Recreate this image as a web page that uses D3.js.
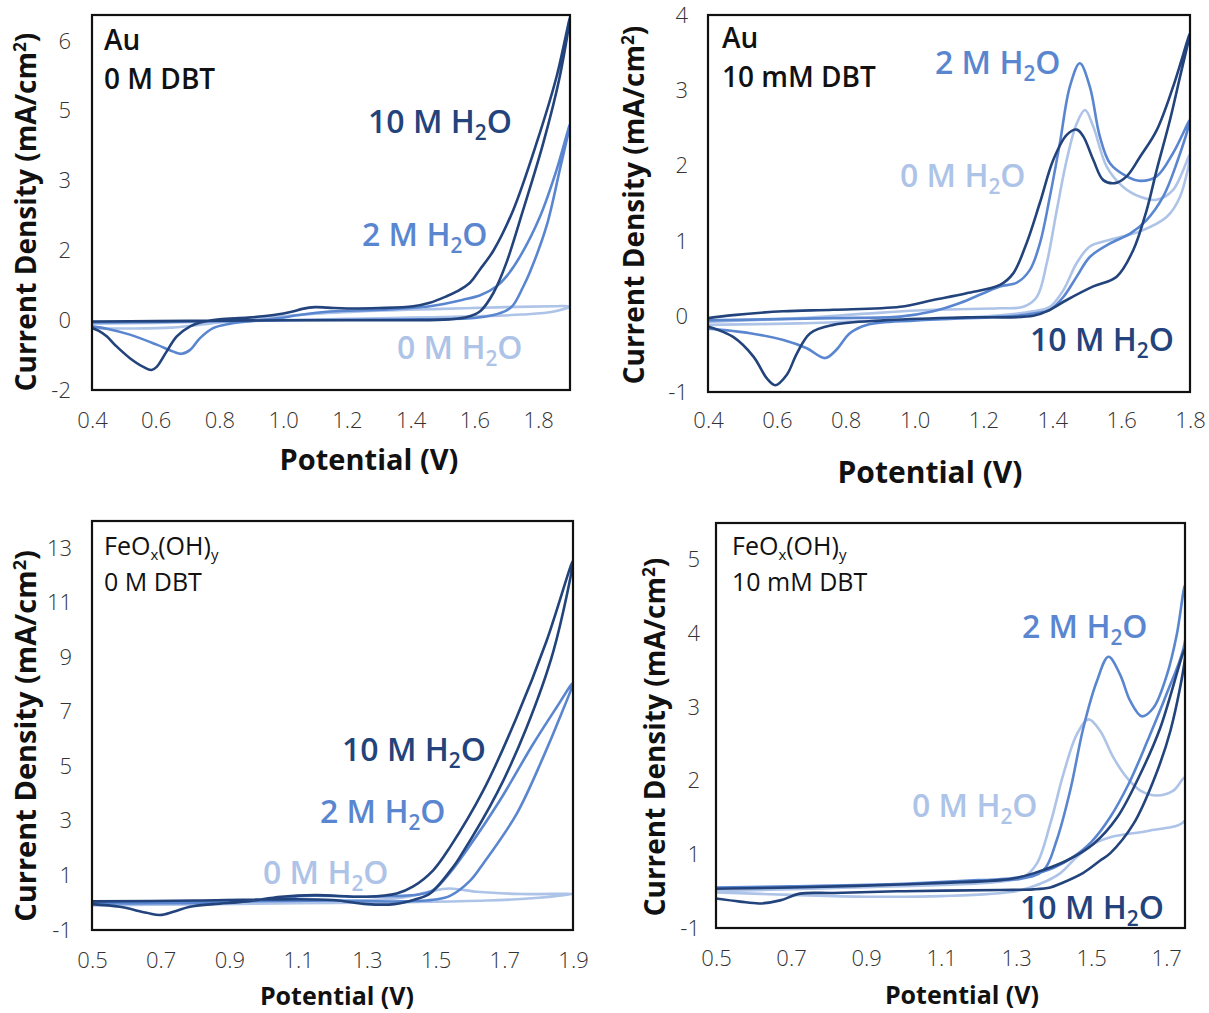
<!DOCTYPE html>
<html>
<head>
<meta charset="utf-8">
<script src="https://cdn.jsdelivr.net/npm/d3@7"></script>
<style>
  body { margin: 0; background: #fff; }
  svg text { font-family: "Open Sans", "Lato", sans-serif; }
</style>
</head>
<body>
<div id="canvas"></div>
<script>
"use strict"

// ---- data: [potential (V), current density (mA/cm2)] in scan order ----

// Au, 0 M DBT
let auNoDbt10M = [[0.40,-0.03],[0.60,-0.02],[0.80,-0.01],[1.00,0.00],[1.20,0.00],[1.40,0.00],[1.52,0.02],[1.58,0.08],[1.62,0.22],[1.66,0.63],[1.70,1.31],[1.753,2.53],[1.816,4.06],[1.868,5.59],[1.90,6.95],
  [1.858,5.59],[1.795,4.06],[1.722,2.53],[1.66,1.60],[1.617,1.16],[1.586,0.86],[1.545,0.66],[1.513,0.55],[1.46,0.40],[1.408,0.32],[1.30,0.28],[1.20,0.27],[1.14,0.29],[1.10,0.30],[1.06,0.26],[1.03,0.20],[0.97,0.12],[0.89,0.06],[0.80,0.02],[0.74,-0.05],[0.708,-0.14],[0.666,-0.37],[0.634,-0.72],[0.603,-1.07],[0.587,-1.14],[0.561,-1.07],[0.519,-0.87],[0.477,-0.60],[0.446,-0.37],[0.42,-0.24],[0.40,-0.18]];
let auNoDbt2M = [[0.40,-0.05],[0.60,-0.04],[0.80,-0.02],[1.00,0.00],[1.20,0.01],[1.40,0.02],[1.60,0.05],[1.66,0.12],[1.70,0.22],[1.722,0.35],[1.752,0.75],[1.774,1.10],[1.826,2.15],[1.868,3.45],[1.90,4.50],
  [1.858,3.45],[1.806,2.38],[1.743,1.46],[1.70,1.00],[1.67,0.78],[1.62,0.58],[1.564,0.47],[1.46,0.32],[1.304,0.24],[1.147,0.20],[1.05,0.12],[0.99,0.05],[0.90,-0.02],[0.833,-0.08],[0.78,-0.18],[0.739,-0.41],[0.708,-0.68],[0.681,-0.77],[0.655,-0.72],[0.603,-0.56],[0.519,-0.33],[0.45,-0.20],[0.40,-0.14]];
let auNoDbt0M = [[0.40,-0.08],[0.60,-0.06],[0.80,-0.03],[1.00,0.00],[1.20,0.03],[1.40,0.06],[1.60,0.09],[1.75,0.13],[1.85,0.20],[1.90,0.32],
  [1.85,0.32],[1.70,0.30],[1.50,0.26],[1.30,0.22],[1.10,0.15],[0.95,0.06],[0.80,-0.05],[0.65,-0.17],[0.50,-0.19],[0.40,-0.19]];

// Au, 10 mM DBT
let auDbt10M = [[0.40,-0.02],[0.473,0.02],[0.619,0.07],[0.764,0.09],[0.958,0.13],[1.054,0.22],[1.151,0.31],[1.248,0.42],[1.286,0.57],[1.325,0.97],[1.364,1.51],[1.403,2.08],[1.442,2.41],[1.471,2.48],[1.490,2.39],[1.519,2.08],[1.548,1.81],[1.582,1.77],[1.616,1.86],[1.655,2.12],[1.703,2.47],[1.751,3.05],[1.80,3.76],
  [1.771,3.18],[1.742,2.61],[1.703,1.94],[1.674,1.41],[1.635,0.88],[1.587,0.53],[1.519,0.40],[1.442,0.22],[1.393,0.09],[1.345,0.01],[1.151,-0.01],[0.909,-0.05],[0.764,-0.11],[0.697,-0.22],[0.658,-0.49],[0.629,-0.77],[0.595,-0.91],[0.571,-0.82],[0.532,-0.53],[0.473,-0.27],[0.40,-0.13]];
let auDbt2M = [[0.40,-0.05],[0.764,-0.02],[0.958,0.00],[1.054,0.07],[1.132,0.18],[1.20,0.31],[1.248,0.40],[1.297,0.45],[1.335,0.62],[1.364,0.97],[1.393,1.59],[1.422,2.30],[1.451,3.05],[1.48,3.36],[1.509,3.05],[1.538,2.39],[1.568,2.03],[1.616,1.86],[1.655,1.80],[1.703,1.86],[1.751,2.17],[1.80,2.61],
  [1.761,2.03],[1.722,1.59],[1.674,1.28],[1.626,1.10],[1.568,0.97],[1.509,0.79],[1.471,0.53],[1.432,0.26],[1.393,0.09],[1.345,0.04],[1.297,0.01],[1.006,-0.05],[0.861,-0.11],[0.812,-0.22],[0.773,-0.44],[0.74,-0.55],[0.687,-0.42],[0.619,-0.31],[0.522,-0.22],[0.40,-0.16]];
let auDbt0M = [[0.40,-0.07],[0.667,-0.02],[0.861,0.04],[1.054,0.09],[1.248,0.11],[1.316,0.13],[1.355,0.26],[1.384,0.71],[1.413,1.41],[1.442,2.08],[1.471,2.56],[1.495,2.74],[1.519,2.52],[1.558,1.99],[1.606,1.72],[1.655,1.59],[1.703,1.55],[1.751,1.68],[1.80,2.15],
  [1.771,1.59],[1.732,1.32],[1.655,1.13],[1.568,1.02],[1.509,0.93],[1.471,0.71],[1.432,0.35],[1.393,0.13],[1.345,0.07],[1.20,0.00],[1.00,-0.04],[0.80,-0.07],[0.667,-0.09],[0.40,-0.11]];

// FeOx(OH)y, 0 M DBT
let feNoDbt10M = [[0.50,0.05],[0.80,0.08],[1.00,0.12],[1.20,0.10],[1.30,-0.05],[1.38,-0.05],[1.44,0.12],[1.484,0.34],[1.551,1.31],[1.571,1.68],[1.678,4.00],[1.765,6.43],[1.843,9.23],[1.90,12.55],
  [1.823,9.60],[1.736,6.80],[1.639,4.12],[1.542,2.04],[1.493,1.19],[1.435,0.60],[1.387,0.34],[1.30,0.22],[1.15,0.28],[1.05,0.22],[0.95,0.05],[0.853,-0.05],[0.785,-0.15],[0.737,-0.33],[0.698,-0.45],[0.659,-0.37],[0.581,-0.15],[0.50,-0.05]];
let feNoDbt2M = [[0.50,0.00],[0.90,0.05],[1.20,0.08],[1.40,0.05],[1.50,0.12],[1.542,0.25],[1.60,0.80],[1.639,1.44],[1.736,3.26],[1.813,5.33],[1.862,6.80],[1.90,8.07],
  [1.852,7.16],[1.784,5.82],[1.687,3.75],[1.59,1.92],[1.542,1.10],[1.493,0.46],[1.45,0.30],[1.30,0.22],[1.12,0.25],[0.95,0.05],[0.70,-0.02],[0.50,-0.02]];
let feNoDbt0M = [[0.50,-0.08],[0.90,-0.02],[1.20,0.05],[1.40,0.18],[1.48,0.40],[1.54,0.52],[1.62,0.40],[1.75,0.32],[1.90,0.32],
  [1.80,0.18],[1.65,0.08],[1.40,0.02],[1.10,-0.02],[0.80,-0.06],[0.50,-0.10]];

// FeOx(OH)y, 10 mM DBT
let feDbt10M = [[0.50,-0.12],[0.564,-0.17],[0.617,-0.20],[0.671,-0.15],[0.724,-0.04],[0.813,-0.03],[1.00,0.00],[1.257,0.02],[1.346,0.03],[1.391,0.06],[1.417,0.12],[1.479,0.30],[1.524,0.50],[1.551,0.62],[1.613,1.10],[1.666,1.80],[1.711,2.61],[1.75,3.80],
  [1.75,3.95],[1.684,2.66],[1.631,1.91],[1.569,1.20],[1.506,0.77],[1.435,0.50],[1.346,0.29],[1.302,0.22],[1.257,0.18],[0.991,0.11],[0.70,0.06],[0.50,0.04]];
let feDbt2M = [[0.50,0.06],[0.80,0.08],[1.00,0.12],[1.20,0.18],[1.311,0.20],[1.373,0.34],[1.408,0.83],[1.444,1.64],[1.479,2.66],[1.515,3.42],[1.546,3.82],[1.577,3.53],[1.604,3.10],[1.635,2.85],[1.666,2.99],[1.702,3.53],[1.728,4.18],[1.75,4.99],
  [1.75,4.07],[1.70,3.20],[1.65,2.45],[1.60,1.75],[1.55,1.20],[1.50,0.80],[1.45,0.55],[1.40,0.38],[1.35,0.28],[1.30,0.22],[1.00,0.12],[0.70,0.08],[0.50,0.06]];
let feDbt0M = [[0.50,0.00],[0.80,0.05],[1.10,0.10],[1.25,0.15],[1.319,0.23],[1.355,0.45],[1.391,1.10],[1.426,1.91],[1.462,2.56],[1.493,2.80],[1.524,2.61],[1.559,2.18],[1.595,1.85],[1.631,1.64],[1.675,1.56],[1.719,1.64],[1.75,1.85],
  [1.75,1.15],[1.657,0.99],[1.551,0.88],[1.506,0.77],[1.462,0.56],[1.417,0.29],[1.364,0.12],[1.30,0.00],[1.10,-0.08],[0.90,-0.09],[0.70,-0.06],[0.50,-0.02]];

// ---- ticks ----
let auNoDbtXTicks = [0.4, 0.6, 0.8, 1.0, 1.2, 1.4, 1.6, 1.8];
let auNoDbtYTicks = [-1.6, 0, 1.6, 3.2, 4.8, 6.4];
let auNoDbtYLabels = ["-2", "0", "2", "3", "5", "6"];
let auDbtXTicks = [0.4, 0.6, 0.8, 1.0, 1.2, 1.4, 1.6, 1.8];
let auDbtYTicks = [-1, 0, 1, 2, 3, 4];
let auDbtYLabels = ["-1", "0", "1", "2", "3", "4"];
let feNoDbtXTicks = [0.5, 0.7, 0.9, 1.1, 1.3, 1.5, 1.7, 1.9];
let feNoDbtYTicks = [-1, 1, 3, 5, 7, 9, 11, 13];
let feNoDbtYLabels = ["-1", "1", "3", "5", "7", "9", "11", "13"];
let feDbtXTicks = [0.5, 0.7, 0.9, 1.1, 1.3, 1.5, 1.7];
let feDbtYTicks = [-0.6, 0.6, 1.8, 3.0, 4.2, 5.4];
let feDbtYLabels = ["-1", "1", "2", "3", "4", "5"];

let seriesNames = ["0 M", "2 M", "10 M"];
let seriesColors = ["#adc3e7", "#5a86d0", "#22437b"];

// ---- layout ----
let drawingWidth = 1209;
let drawingHeight = 1013;

let panels = [
  { left: 92, right: 570, top: 15, bottom: 390, xDomain: [0.4, 1.9], yDomain: [-1.6, 7.0],
    xTicks: auNoDbtXTicks, yTicks: auNoDbtYTicks, yLabels: auNoDbtYLabels,
    series: [auNoDbt0M, auNoDbt2M, auNoDbt10M],
    title: ["Au", "0 M DBT"], titleX: 104, titleY: [50, 89], titleSize: 28, titleWeight: 600, fe: false,
    labels: [[397, 359], [362, 246], [368, 133]],
    yPad: 21, xPad: 22, yTitle: [36, 212], xTitle: [369, 470], axisSize: 28, xTitleSize: 29 },
  { left: 708, right: 1190, top: 15, bottom: 392, xDomain: [0.4, 1.8], yDomain: [-1, 4],
    xTicks: auDbtXTicks, yTicks: auDbtYTicks, yLabels: auDbtYLabels,
    series: [auDbt0M, auDbt2M, auDbt10M],
    title: ["Au", "10 mM DBT"], titleX: 722, titleY: [48, 87], titleSize: 28, titleWeight: 600, fe: false,
    labels: [[900, 187], [935, 74], [1030, 351]],
    yPad: 20, xPad: 20, yTitle: [644, 205], xTitle: [930, 483], axisSize: 28, xTitleSize: 30 },
  { left: 92, right: 573, top: 521, bottom: 930, xDomain: [0.5, 1.9], yDomain: [-1, 14],
    xTicks: feNoDbtXTicks, yTicks: feNoDbtYTicks, yLabels: feNoDbtYLabels,
    series: [feNoDbt0M, feNoDbt2M, feNoDbt10M],
    title: ["", "0 M DBT"], titleX: 104, titleY: [555, 591], titleSize: 25, titleWeight: 400, fe: true,
    labels: [[263, 884], [320, 823], [342, 761]],
    yPad: 20, xPad: 22, yTitle: [36, 736], xTitle: [337, 1005], axisSize: 29, xTitleSize: 25 },
  { left: 716, right: 1185, top: 523, bottom: 928, xDomain: [0.5, 1.75], yDomain: [-0.6, 6.0],
    xTicks: feDbtXTicks, yTicks: feDbtYTicks, yLabels: feDbtYLabels,
    series: [feDbt0M, feDbt2M, feDbt10M],
    title: ["", "10 mM DBT"], titleX: 732, titleY: [555, 591], titleSize: 25, titleWeight: 400, fe: true,
    labels: [[912, 817], [1022, 638], [1020, 919]],
    yPad: 16, xPad: 22, yTitle: [665, 737], xTitle: [962, 1004], axisSize: 28, xTitleSize: 25 }
];

let drawing = d3.select("#canvas")
  .append("svg")
  .attr("width", drawingWidth)
  .attr("height", drawingHeight);

drawing.append("rect")
  .attr("width", drawingWidth)
  .attr("height", drawingHeight)
  .attr("fill", "white");

panels.forEach(function (p, pi) {
  let xScale = d3.scaleLinear().domain(p.xDomain).range([p.left, p.right]);
  let yScale = d3.scaleLinear().domain(p.yDomain).range([p.bottom, p.top]);

  let g = drawing.append("g");

  // clip so curves stay in the frame
  g.append("clipPath").attr("id", "clip" + pi)
    .append("rect")
    .attr("x", p.left).attr("y", p.top)
    .attr("width", p.right - p.left).attr("height", p.bottom - p.top);

  let line = d3.line()
    .x(d => xScale(d[0]))
    .y(d => yScale(d[1]))
    .curve(d3.curveCatmullRom.alpha(0.5));

  let curves = g.append("g").attr("clip-path", "url(#clip" + pi + ")");
  p.series.forEach(function (s, si) {
    curves.append("path")
      .attr("d", line(s))
      .attr("fill", "none")
      .attr("stroke", seriesColors[si])
      .attr("stroke-width", 2.6)
      .attr("stroke-linejoin", "round");
  });

  // frame
  g.append("rect")
    .attr("x", p.left).attr("y", p.top)
    .attr("width", p.right - p.left).attr("height", p.bottom - p.top)
    .attr("fill", "none")
    .attr("stroke", "#111")
    .attr("stroke-width", 2.2);

  // axes (labels only)
  let yAxis = d3.axisLeft(yScale)
    .tickValues(p.yTicks)
    .tickFormat((d, i) => p.yLabels[i])
    .tickSize(0)
    .tickPadding(p.yPad);
  let yg = g.append("g").attr("transform", "translate(" + p.left + ",0)").call(yAxis);
  yg.select(".domain").remove();
  yg.selectAll("text")
    .attr("font-family", "Open Sans")
    .attr("font-weight", 300)
    .attr("font-size", 22)
    .attr("fill", "#333");

  let xAxis = d3.axisBottom(xScale)
    .tickValues(p.xTicks)
    .tickFormat(d3.format(".1f"))
    .tickSize(0)
    .tickPadding(p.xPad);
  let xg = g.append("g").attr("transform", "translate(0," + p.bottom + ")").call(xAxis);
  xg.select(".domain").remove();
  xg.selectAll("text")
    .attr("font-family", "Open Sans")
    .attr("font-weight", 300)
    .attr("font-size", 22)
    .attr("fill", "#333");

  // axis titles
  g.append("text")
    .attr("x", p.xTitle[0]).attr("y", p.xTitle[1])
    .attr("text-anchor", "middle")
    .attr("font-weight", 700)
    .attr("font-size", p.xTitleSize)
    .attr("fill", "#111")
    .text("Potential (V)");

  let yt = g.append("text")
    .attr("transform", "translate(" + p.yTitle[0] + "," + p.yTitle[1] + ") rotate(-90)")
    .attr("text-anchor", "middle")
    .attr("font-weight", 700)
    .attr("font-size", p.axisSize)
    .attr("fill", "#111");
  yt.append("tspan").text("Current Density (mA/cm");
  yt.append("tspan").attr("font-size", "0.62em").attr("dy", -10).text("2");
  yt.append("tspan").attr("dy", 10).text(")");

  // panel annotation
  let t1 = g.append("text")
    .attr("x", p.titleX).attr("y", p.titleY[0])
    .attr("font-size", p.titleSize)
    .attr("font-weight", p.titleWeight)
    .attr("fill", "#111");
  if (p.fe) {
    t1.append("tspan").text("FeO");
    t1.append("tspan").attr("font-size", "0.6em").attr("dy", 5).text("x");
    t1.append("tspan").attr("dy", -5).text("(OH)");
    t1.append("tspan").attr("font-size", "0.6em").attr("dy", 5).text("y");
  } else {
    t1.text(p.title[0]);
  }
  g.append("text")
    .attr("x", p.titleX).attr("y", p.titleY[1])
    .attr("font-size", p.titleSize)
    .attr("font-weight", p.titleWeight)
    .attr("fill", "#111")
    .text(p.title[1]);

  // series labels
  p.labels.forEach(function (pos, si) {
    let t = g.append("text")
      .attr("x", pos[0]).attr("y", pos[1])
      .attr("font-size", 32)
      .attr("font-weight", 600)
      .attr("fill", seriesColors[si]);
    t.append("tspan").text(seriesNames[si] + " H");
    t.append("tspan").attr("font-size", "0.65em").attr("dy", 7).text("2");
    t.append("tspan").attr("dy", -7).text("O");
  });
});
</script>
</body>
</html>
